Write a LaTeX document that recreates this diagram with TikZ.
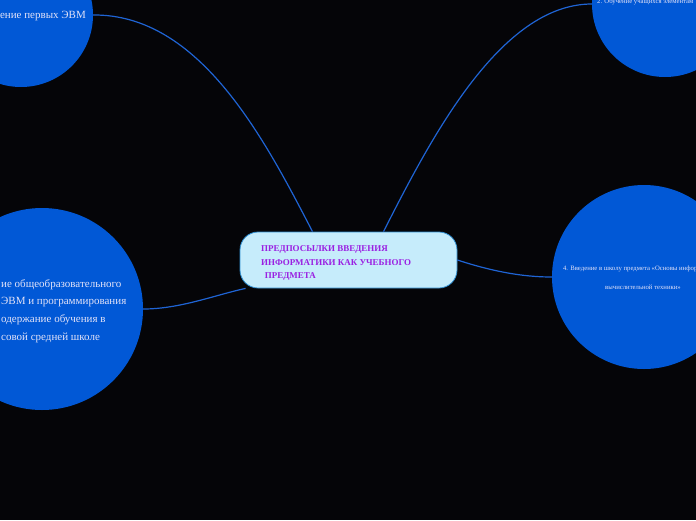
\documentclass[tikz,border=0pt]{standalone}
\usepackage{fontspec}
\setmainfont{Liberation Serif}
\usetikzlibrary{positioning}
\definecolor{bgdark}{HTML}{050508}
\definecolor{topicblue}{HTML}{0158D6}
\definecolor{topictext}{HTML}{E2E2F8}
\definecolor{linkblue}{HTML}{1F64D4}
\definecolor{hubfill}{HTML}{C6ECFB}
\definecolor{hubline}{HTML}{2F8FD2}
\definecolor{hubtext}{HTML}{9A1FE2}
\tikzstyle{topic} = [circle, fill=topicblue, inner sep=0pt]
\tikzstyle{topiclabel} = [text=topictext, inner sep=0pt, font=\fontsize{11}{17.7}\selectfont]
\tikzstyle{smalllabel} = [text=topictext, inner sep=0pt, font=\fontsize{6.7}{19}\selectfont]
\tikzstyle{hubbox} = [rectangle, rounded corners=18pt, draw=hubline, fill=hubfill, line width=0.8pt, minimum width=217pt, minimum height=56pt]
\tikzstyle{linkline} = [draw=linkblue, line width=1.2pt]

\begin{document}
\begin{tikzpicture}[x=1pt, y=-1pt]
		\useasboundingbox (0,0) rectangle (696,520);
		\fill [bgdark] (0,0) rectangle (696,520);
		\clip (0,0) rectangle (696,520);
		\node (hub) [hubbox] at (348.5,260) {};
		\node (hubtitle) [anchor=north west, align=left, inner sep=0pt, text=hubtext, font=\fontsize{8.95}{13.6}\bfseries\selectfont] at (261,245.5) {ПРЕДПОСЫЛКИ ВВЕДЕНИЯ\\ИНФОРМАТИКИ КАК УЧЕБНОГО\\\ \,ПРЕДМЕТА};
		\node (first) [topic, minimum size=144pt] at (21,15) {};
		\node (second) [topic, minimum size=146pt] at (665,4) {};
		\node (third) [topic, minimum size=202pt] at (42,309) {};
		\node (fourth) [topic, minimum size=184pt] at (644,277) {};
		\node (firsttext) [topiclabel, anchor=base east] at (86,18) {ение первых ЭВМ};
		\node (secondtext) [smalllabel, anchor=base west] at (597,3) {2. Обучение учащихся элементам};
		\node (thirdtext) [topiclabel, anchor=north west, align=left] at (1,279) {ие общеобразовательного\\ЭВМ и программирования\\одержание обучения в\\совой средней школе};
		\node (fourthtext) [smalllabel, anchor=north, align=center] at (643,266) {4. Введение в школу предмета «Основы информатики и\\вычислительной техники»};
		\draw [linkline] ([xshift=-36pt]hub.north) .. controls (265,140) and (200,14) .. (first.east);
		\draw [linkline] ([xshift=35pt]hub.north) .. controls (430,140) and (500,4) .. (second.west);
		\draw [linkline] ([xshift=6pt]hub.south west) .. controls (215,295) and (180,309) .. (third.east);
		\draw [linkline] (hub.east) .. controls (500,274) and (530,277) .. (fourth.west);
	\end{tikzpicture}
\end{document}
